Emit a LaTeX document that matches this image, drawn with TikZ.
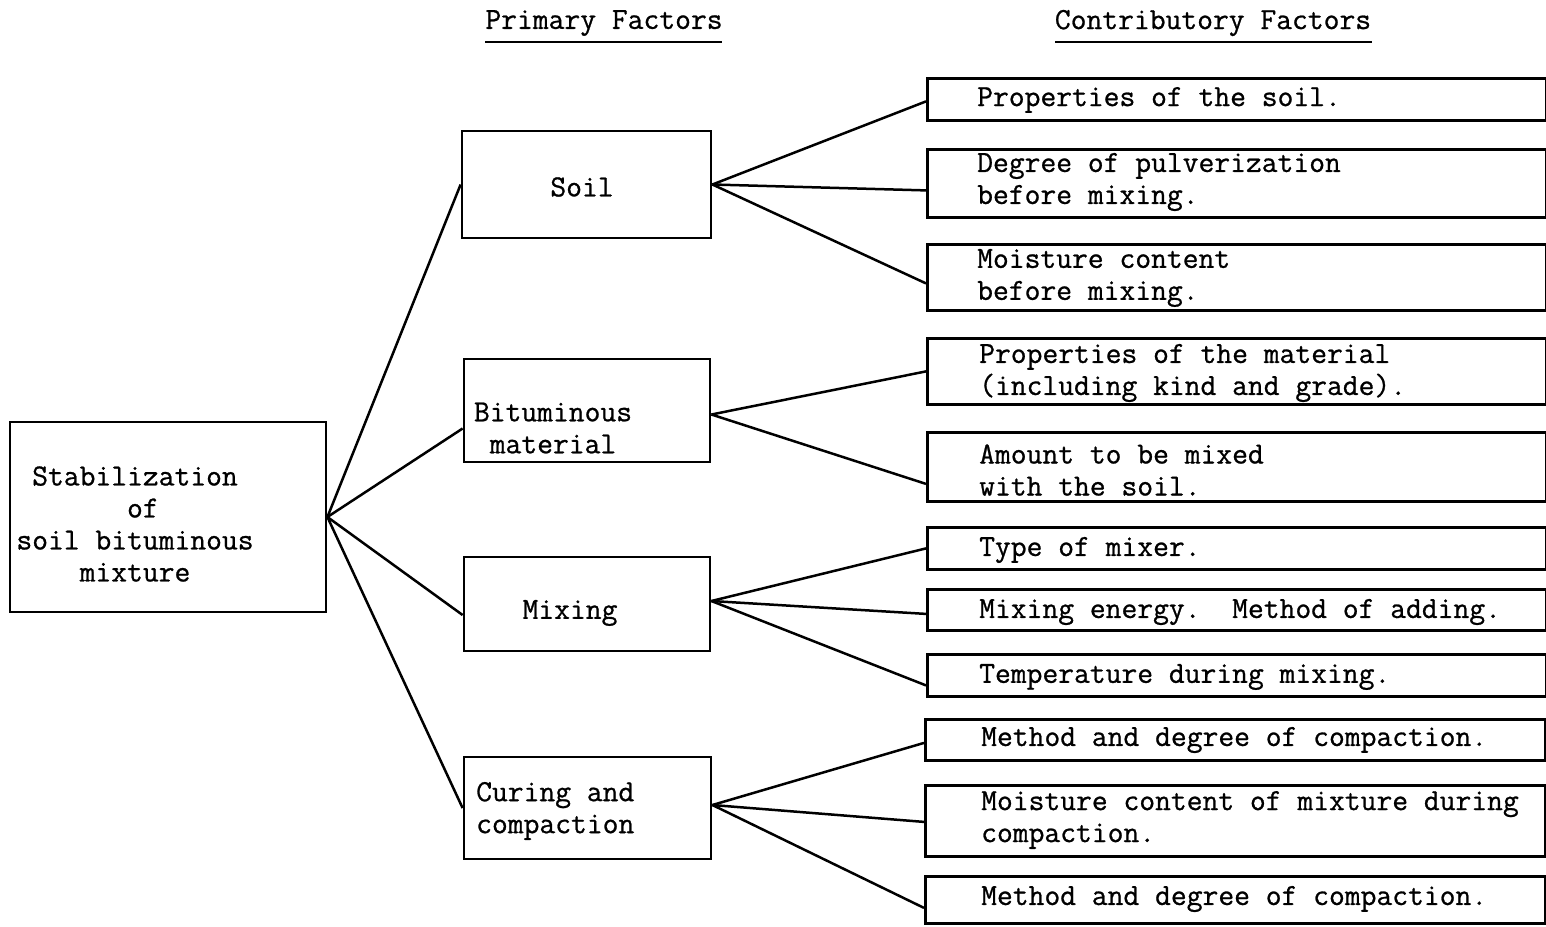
\documentclass[tikz,border=0pt]{standalone}
\usepackage{fontspec}
\newfontfamily\twfont{Latin Modern Mono}[FakeBold=0.8]
\begin{document}
\begin{tikzpicture}[x=1pt,y=-1pt,
  every node/.style={font=\twfont\fontsize{30.7}{32}\selectfont},
  box/.style={draw, line width=2.8pt, inner sep=0pt},
  txt/.style={inner sep=0pt, anchor=west, align=left},
  conn/.style={line width=2.5pt},
  uline/.style={line width=1.8pt}]
\useasboundingbox (0,0) rectangle (1546,926);
% headers
\node[inner sep=0pt] (h1) at (604,23) {Primary Factors};
\node[inner sep=0pt] (h2) at (1213,23) {Contributory Factors};
\draw[uline] (485,42) -- (722,42);
\draw[uline] (1055,42) -- (1372,42);
% main box
\node[box, minimum width=316, minimum height=190] (main) at (168,517) {};
\node[inner sep=0pt, align=center] (maint) at (135,524) {Stabilization\\ \ of\\soil bituminous\\mixture};
% primary boxes
\node[box, minimum width=249, minimum height=107] (soil) at (586.5,184.5) {};
\node[inner sep=0pt] (soilt) at (582,187) {Soil};
\node[box, minimum width=246, minimum height=103] (bit) at (587,410.5) {};
\node[inner sep=0pt, align=center] (bitt) at (553,428) {Bituminous\\material};
\node[box, minimum width=246, minimum height=94] (mix) at (587,604) {};
\node[inner sep=0pt] (mixt) at (570,613) {Mixing};
\node[box, minimum width=247, minimum height=102] (cur) at (587.5,808) {};
\node[txt] (curt) at (476,811) {Curing and\\compaction};
% contributory boxes
\node[box, anchor=north west, minimum width=619, minimum height=42] (b1) at (926,77) {};
\node[txt] (b1t) at (977,100) {Properties of the soil.};
\node[box, anchor=north west, minimum width=619, minimum height=68] (b2) at (926,148) {};
\node[txt] (b2t) at (977,182) {Degree of pulverization\\before mixing.};
\node[box, anchor=north west, minimum width=619, minimum height=66] (b3) at (926,243) {};
\node[txt] (b3t) at (977,278) {Moisture content\\before mixing.};
\node[box, anchor=north west, minimum width=619, minimum height=66] (b4) at (926,337) {};
\node[txt] (b4t) at (979,373) {Properties of the material\\(including kind and grade).};
\node[box, anchor=north west, minimum width=619, minimum height=69] (b5) at (926,431) {};
\node[txt] (b5t) at (979,470) {Amount to be mixed\\with the soil.};
\node[box, anchor=north west, minimum width=619, minimum height=42] (b6) at (926,526) {};
\node[txt] (b6t) at (979,550) {Type of mixer.};
\node[box, anchor=north west, minimum width=619, minimum height=41] (b7) at (926,588) {};
\node[txt] (b7t) at (979,612) {Mixing energy.\ \ Method of adding.};
\node[box, anchor=north west, minimum width=619, minimum height=42] (b8) at (926,653) {};
\node[txt] (b8t) at (979,677) {Temperature during mixing.};
\node[box, anchor=north west, minimum width=620, minimum height=41] (b9) at (924,718) {};
\node[txt] (b9t) at (981,740) {Method and degree of compaction.};
\node[box, anchor=north west, minimum width=620, minimum height=71] (b10) at (924,784) {};
\node[txt] (b10t) at (981,820) {Moisture content of mixture during\\compaction.};
\node[box, anchor=north west, minimum width=620, minimum height=47] (b11) at (924,875) {};
\node[txt] (b11t) at (981,899) {Method and degree of compaction.};
% connectors main -> primary
\draw[conn] (main.east) -- (soil.west);
\draw[conn] (main.east) -- ([yshift=-18pt]bit.west);
\draw[conn] (main.east) -- ([yshift=-11pt]mix.west);
\draw[conn] (main.east) -- (cur.west);
% soil
\draw[conn] (soil.east) -- ([yshift=-2pt]b1.west);
\draw[conn] (soil.east) -- ([yshift=-7pt]b2.west);
\draw[conn] (soil.east) -- ([yshift=-6pt]b3.west);
% bituminous
\draw[conn] ([yshift=-4pt]bit.east) -- (b4.west);
\draw[conn] ([yshift=-4pt]bit.east) -- ([yshift=-17pt]b5.west);
% mixing
\draw[conn] ([yshift=3pt]mix.east) -- (b6.west);
\draw[conn] ([yshift=3pt]mix.east) -- ([yshift=-4pt]b7.west);
\draw[conn] ([yshift=3pt]mix.east) -- ([yshift=-10pt]b8.west);
% curing
\draw[conn] ([yshift=3pt]cur.east) -- ([yshift=-3pt]b9.west);
\draw[conn] ([yshift=3pt]cur.east) -- ([yshift=-1pt]b10.west);
\draw[conn] ([yshift=3pt]cur.east) -- ([yshift=-8pt]b11.west);
\end{tikzpicture}
\end{document}
